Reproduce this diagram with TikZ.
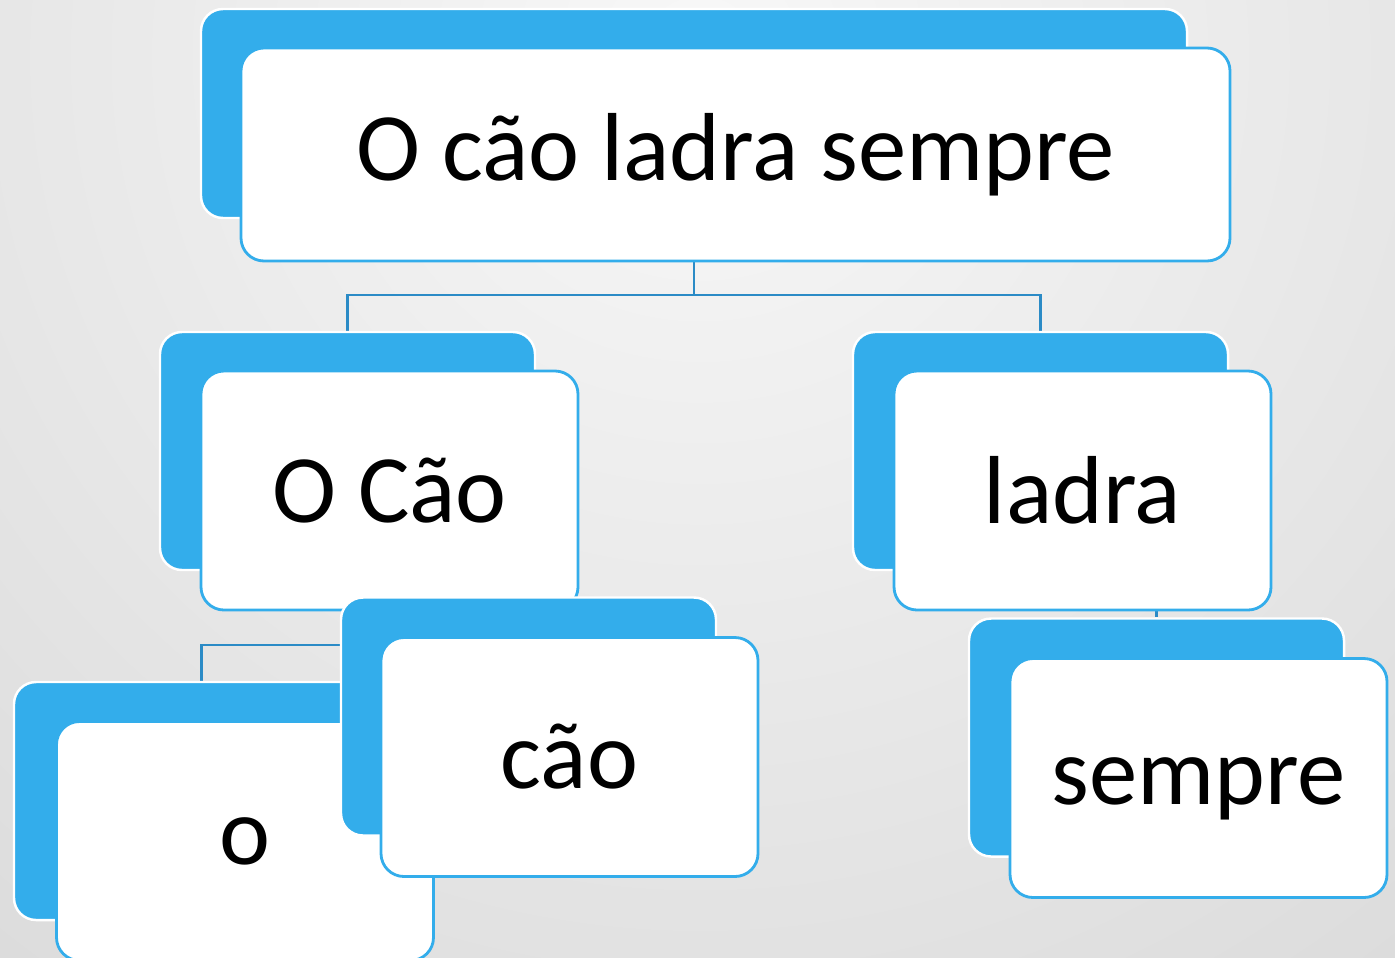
\documentclass[tikz,border=0pt]{standalone}
\usepackage{fontspec}
\setmainfont{Carlito}
\usetikzlibrary{backgrounds}
\definecolor{cardblue}{HTML}{33ADEB}
\definecolor{linkblue}{HTML}{2B8BC6}
\definecolor{bginner}{HTML}{F8F8F8}
\definecolor{bgouter}{HTML}{B8B8B8}
\pgfdeclarelayer{bg}
\pgfsetlayers{bg,background,main}
\begin{document}
\begin{tikzpicture}[back/.style={draw=white, line width=0.7pt, fill=cardblue, rounded corners=0.22cm, minimum width=3.75cm, minimum height=2.38cm},
  card/.style={draw=cardblue, line width=0.8pt, fill=white, rounded corners=0.23cm, minimum width=3.77cm, minimum height=2.39cm, font=\fontsize{27.5}{33}\selectfont},
  link/.style={draw=linkblue, line width=0.8pt}]
            \useasboundingbox (0,0) rectangle (13.95,9.57);
            \begin{pgfonlayer}{bg}
            \clip (0,0) rectangle (13.95,9.57);
            \shade[inner color=bginner, outer color=bgouter] (-19,-17) rectangle (33,35);
            \end{pgfonlayer}
            \node[back, minimum width=9.86cm, minimum height=2.09cm] (rootb) at (6.94,8.435) {};
            \node[card, minimum width=9.89cm, minimum height=2.13cm] (root) at (7.355,8.025) {O cão ladra sempre};
            \node[back] (ocaob) at (3.475,5.06) {};
            \node[card] (ocao) at (3.895,4.665) {O Cão};
            \node[back] (ladrab) at (10.405,5.06) {};
            \node[card] (ladra) at (10.825,4.665) {ladra};
            \node[back] (ob) at (2.015,1.56) {};
            \node[card] (o) at (2.45,1.16) {o};
            \node[back] (caob) at (5.285,2.405) {};
            \node[card] (cao) at (5.695,2.0) {cão};
            \node[back] (sempreb) at (11.565,2.195) {};
            \node[card] (sempre) at (11.985,1.79) {\raisebox{-0.11cm}[\height][\depth]{sempre}};
            % connectors sit behind the cards
            \coordinate (j1) at (6.94,6.62);
            \coordinate (j2) at (3.475,3.12);
            \coordinate (j3) at (10.405,3.57);
            \begin{pgfonlayer}{background}
            \draw[link] (rootb) -- (j1) -| (ocaob);
            \draw[link] (j1) -| (ladrab);
            \draw[link] (ocaob) -- (j2) -| (ob);
            \draw[link] (j2) -| (caob);
            \draw[link] (ladrab) -- (j3) -| (sempreb);
            \end{pgfonlayer}
\end{tikzpicture}
\end{document}
